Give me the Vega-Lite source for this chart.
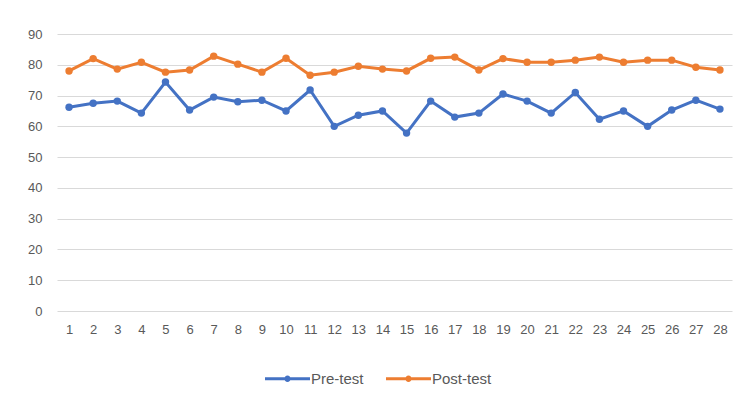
{
  "$schema": "https://vega.github.io/schema/vega-lite/v6.json",
  "width": 675,
  "height": 277,
  "autosize": {"type": "none"},
  "padding": {"left": 57, "top": 34, "right": 21, "bottom": 92},
  "background": "white",
  "config": {
    "view": {"stroke": null},
    "font": "Liberation Sans Narrow, Liberation Sans, sans-serif"
  },
  "data": {
    "values": [
      {"n": 1, "pre": 66.2, "post": 78.0},
      {"n": 2, "pre": 67.5, "post": 82.0},
      {"n": 3, "pre": 68.2, "post": 78.6},
      {"n": 4, "pre": 64.3, "post": 80.8},
      {"n": 5, "pre": 74.4, "post": 77.6},
      {"n": 6, "pre": 65.3, "post": 78.3},
      {"n": 7, "pre": 69.5, "post": 82.8},
      {"n": 8, "pre": 68.0, "post": 80.2},
      {"n": 9, "pre": 68.5, "post": 77.6},
      {"n": 10, "pre": 65.0, "post": 82.1},
      {"n": 11, "pre": 71.8, "post": 76.6},
      {"n": 12, "pre": 60.0, "post": 77.6},
      {"n": 13, "pre": 63.6, "post": 79.5},
      {"n": 14, "pre": 65.0, "post": 78.6},
      {"n": 15, "pre": 57.8, "post": 78.0},
      {"n": 16, "pre": 68.2, "post": 82.1},
      {"n": 17, "pre": 63.0, "post": 82.5},
      {"n": 18, "pre": 64.3, "post": 78.3},
      {"n": 19, "pre": 70.5, "post": 82.0},
      {"n": 20, "pre": 68.2, "post": 80.8},
      {"n": 21, "pre": 64.3, "post": 80.8},
      {"n": 22, "pre": 71.0, "post": 81.5},
      {"n": 23, "pre": 62.3, "post": 82.5},
      {"n": 24, "pre": 65.0, "post": 80.8},
      {"n": 25, "pre": 60.0, "post": 81.5},
      {"n": 26, "pre": 65.3, "post": 81.5},
      {"n": 27, "pre": 68.5, "post": 79.2},
      {"n": 28, "pre": 65.6, "post": 78.3}
    ]
  },
  "transform": [
    {"fold": ["pre", "post"], "as": ["key", "score"]},
    {"calculate": "datum.key === 'pre' ? 'Pre-test' : 'Post-test'", "as": "series"}
  ],
  "mark": {"type": "line", "strokeWidth": 3, "point": {"size": 55, "filled": true}},
  "encoding": {
    "x": {
      "field": "n",
      "type": "ordinal",
      "scale": {"type": "point", "padding": 0.5},
      "axis": {
        "title": null,
        "labelAngle": 0,
        "ticks": false,
        "domain": false,
        "labelColor": "#595959",
        "labelFontSize": 13,
        "labelPadding": 12
      }
    },
    "y": {
      "field": "score",
      "type": "quantitative",
      "scale": {"domain": [0, 90], "nice": false},
      "axis": {
        "title": null,
        "values": [0, 10, 20, 30, 40, 50, 60, 70, 80, 90],
        "ticks": false,
        "domain": false,
        "gridColor": "#d9d9d9",
        "gridWidth": 1,
        "labelColor": "#595959",
        "labelFontSize": 13,
        "labelPadding": 15
      }
    },
    "color": {
      "field": "series",
      "type": "nominal",
      "sort": ["Pre-test", "Post-test"],
      "scale": {"domain": ["Pre-test", "Post-test"], "range": ["#4472C4", "#ED7D31"]},
      "legend": {
        "title": null,
        "orient": "none",
        "legendX": 208,
        "legendY": 322,
        "direction": "horizontal",
        "symbolType": "M-1,-0.07H1V0.07H-1Z M-0.14,0A0.14,0.14 0 1,1 0.14,0A0.14,0.14 0 1,1 -0.14,0Z",
        "symbolSize": 2025,
        "symbolStrokeWidth": 0,
        "labelFontSize": 15,
        "labelColor": "#595959",
        "labelOffset": 1,
        "columnPadding": 22,
        "encode": {
          "symbols": {"update": {"fill": {"scale": "color", "field": "value"}, "fillOpacity": {"value": 1}}}
        }
      }
    }
  }
}
